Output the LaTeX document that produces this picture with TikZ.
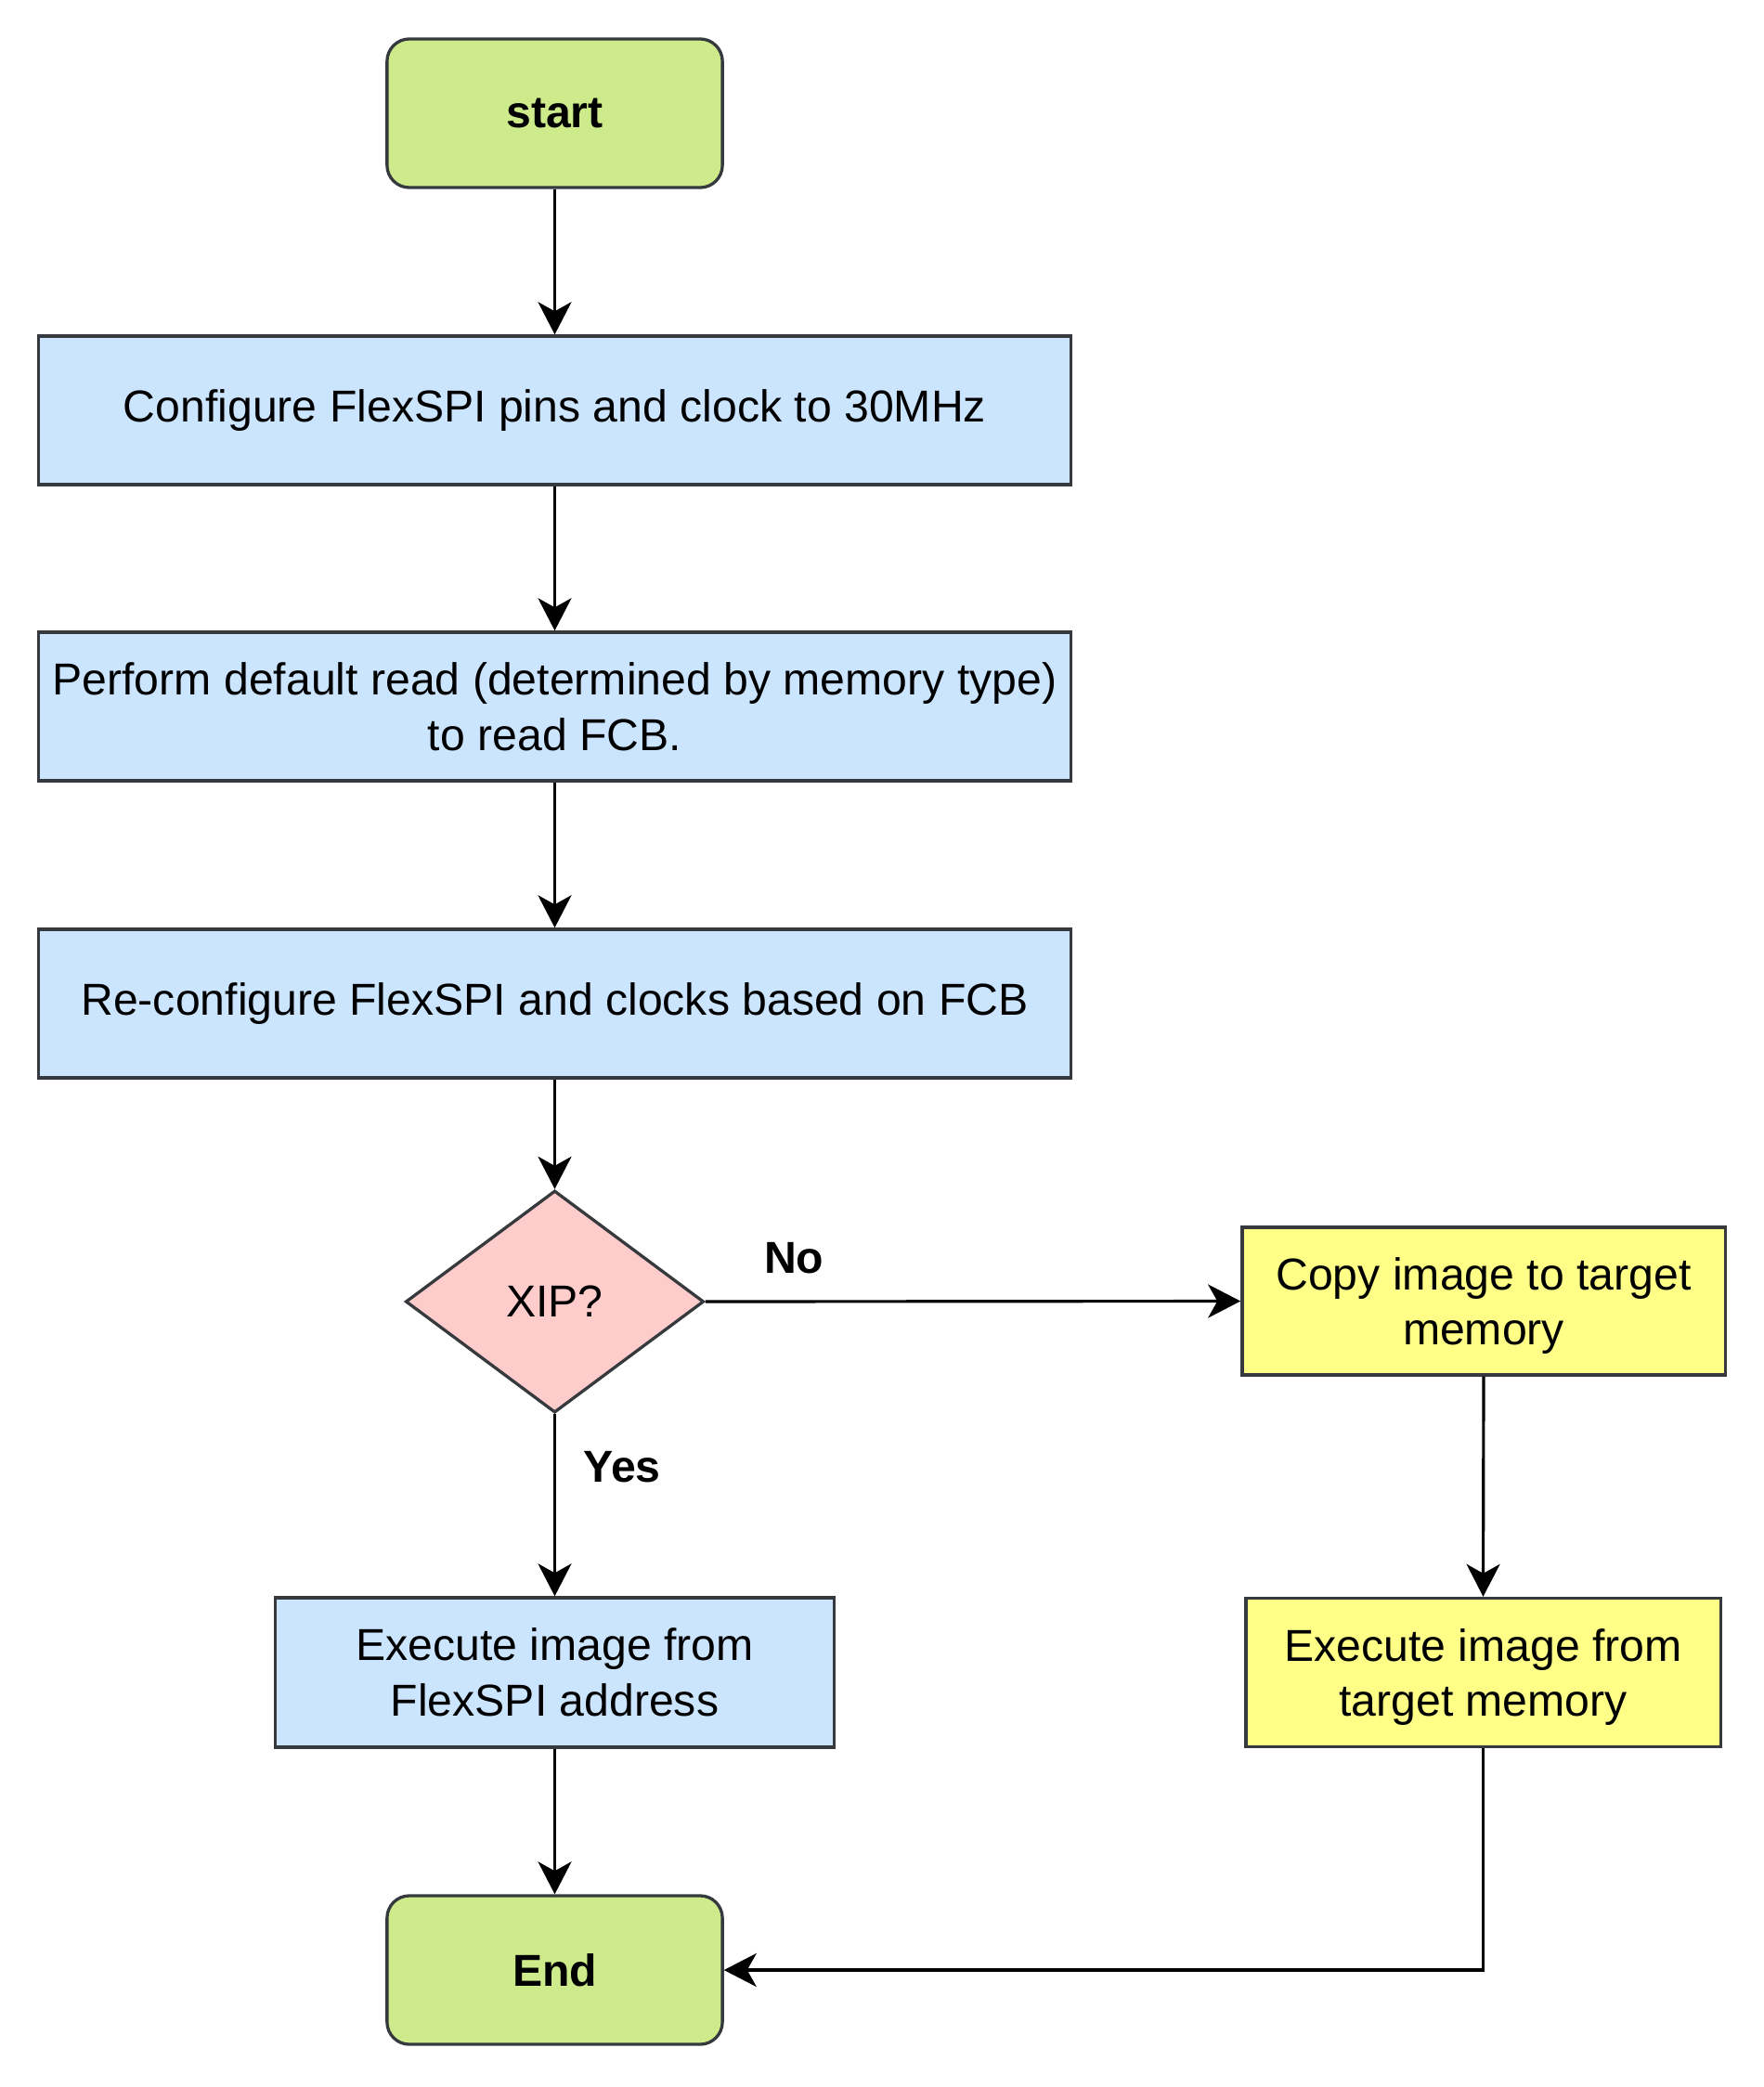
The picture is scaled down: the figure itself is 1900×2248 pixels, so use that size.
\documentclass[tikz,border=0pt]{standalone}
\usepackage{fontspec}
\setmainfont{Liberation Sans}
\usetikzlibrary{shapes.geometric,arrows.meta}
\definecolor{bordc}{HTML}{36393D}
\definecolor{greenf}{HTML}{CDEB8B}
\definecolor{bluef}{HTML}{CCE5FF}
\definecolor{pinkf}{HTML}{FFCCCC}
\definecolor{yellowf}{HTML}{FFFF88}
\tikzset{
  base/.style={draw=bordc, line width=0.94pt, inner sep=0pt, align=center,
    font=\fontsize{13.7pt}{17pt}\selectfont},
  termbox/.style={base, fill=greenf, rounded corners=0.24cm,
    minimum width=3.61cm, minimum height=1.60cm, font=\fontsize{13.7pt}{17pt}\selectfont\bfseries},
  bluebox/.style={base, fill=bluef, minimum height=1.60cm},
  yellowbox/.style={base, fill=yellowf, minimum height=1.60cm, text depth=0pt},
  decbox/.style={base, fill=pinkf, diamond, minimum width=3.21cm, minimum height=2.39cm},
  arr/.style={line width=0.9pt, draw=black, -{Stealth[length=0.35cm, width=0.36cm, inset=0.1cm]}},
  lbl/.style={inner sep=0pt, font=\fontsize{13.7pt}{17pt}\selectfont\bfseries}
}
\begin{document}
\begin{tikzpicture}[x=0.01cm, y=-0.01cm]
\useasboundingbox (0,0) rectangle (1900,2248);
\node[termbox] (start) at (597.5,122) {start};
\node[bluebox, minimum width=11.11cm] (conf) at (597.5,442) {Configure FlexSPI pins and clock to 30MHz};
\node[bluebox, minimum width=11.11cm] (perf) at (597.5,761) {Perform default read (determined by memory type)\\to read FCB.};
\node[bluebox, minimum width=11.11cm] (reconf) at (597.5,1081) {Re-configure FlexSPI and clocks based on FCB};
\node[decbox] (xip) at (597.5,1402) {XIP?};
\node[yellowbox, minimum width=5.20cm, minimum height=1.59cm] (copy) at (1598,1401.5) {Copy image to target\\memory};
\node[bluebox, minimum width=6.01cm, minimum height=1.61cm] (execf) at (597.5,1801.5) {Execute image from\\FlexSPI address};
\node[yellowbox, minimum width=5.11cm, minimum height=1.60cm] (exect) at (1597.5,1801.5) {Execute image from\\target memory};
\node[termbox] (end) at (597.5,2122) {End};

\draw[arr] (start) -- (conf);
\draw[arr] (conf) -- (perf);
\draw[arr] (perf) -- (reconf);
\draw[arr] (reconf) -- (xip);
\draw[arr] (xip.east) -- node[lbl, pos=0.1655, yshift=0.47cm] (nolbl) {No} (copy.west);
\draw[arr] (xip.south) -- node[lbl, pos=0.29, xshift=0.725cm] (yeslbl) {Yes} (execf.north);
\draw[arr] (copy.south) -- (exect.north);
\draw[arr] (execf) -- (end);
\draw[arr] (exect.south) |- (end.east);
\end{tikzpicture}
\end{document}
